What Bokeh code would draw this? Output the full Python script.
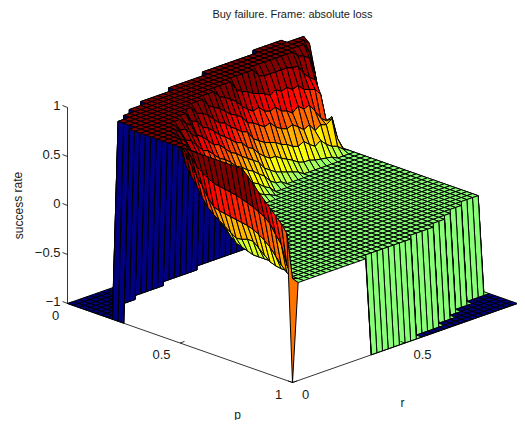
from bokeh.plotting import figure
from bokeh.models import Range1d
from bokeh.core.properties import value
from bokeh.embed import file_html
from bokeh.resources import INLINE

TITLE = "Buy failure. Frame: absolute loss"
Z_TICKS = [-1, -0.5, 0, 0.5, 1]
Z_TICK_LABELS = ["\u22121", "\u22120.5", "0", "0.5", "1"]
P_TICKS = [0, 0.5, 1]
R_TICKS = [0, 0.5]
N = 40  # grid cells per axis

# Success rate, one entry per r grid line (r = j/40).
floor_last = [10, 7, 7, 6, 6, 5, 5, 5, 4, 4, 4, 4, 4, 4, 3, 3, 3, 3, 3, 3, 3,
              2, 2, 2, 2, 2, 2, 2, 2, 2, 2, 1, 1, 1, 1, 1, 1, 2, 2, 2]
plateau_last = [31, 20, 18, 16, 15, 14, 13, 13, 12, 12, 11, 11, 10, 10, 10, 9, 9, 9, 8, 8, 8,
                8, 7, 7, 7, 7, 7, 6, 6, 6, 6, 6, 6, 6, 6, 5, 5, 5, 4, 3]
right_last = [39] + [40] * 13 + [39] * 9 + [38] * 5 + [37] * 3 + [36] * 2 + [35] * 3 + [34] * 4
falling = [
    [.95, .88, .82, .76, .7, .64, .58, .5],
    [.9, .82, .78, .74, .71, .7, .69, .68, .67, .65, .63, .61, .58, .55, .5, .41, .33, .14, .02],
    [.88, .78, .68, .6, .5, .43, .41, .4, .39, .38, .37, .36, .34, .31, .27, .22, .15, .08, .02],
    [.88, .72, .62, .54, .44, .36, .31, .27, .23, .19, .15, .16, .18, .18, .13, .08, .03, .01],
    [.93, .8, .68, .56, .42, .36, .28, .22, .18, .11, .06, .04, .02],
    [.95, .87, .77, .65, .52, .41, .3, .2, .13, .09, .06, .03, .01],
    [.93, .85, .76, .66, .56, .46, .37, .29, .22, .15, .09, .04],
    [.92, .82, .72, .62, .52, .42, .33, .25, .18, .12, .06, .02],
    [.94, .85, .75, .65, .56, .47, .38, .3, .23, .16, .1, .05, .01],
    [.9, .8, .69, .58, .48, .38, .29, .21, .14, .08, .03],
    [.9, .78, .64, .52, .42, .33, .25, .17, .1, .04],
    [.88, .74, .62, .5, .4, .31, .22, .14, .07, .02],
    [.92, .8, .68, .56, .45, .35, .26, .18, .1, .04],
    [.9, .77, .62, .5, .38, .28, .2, .12, .05],
    [.86, .72, .6, .47, .35, .26, .17, .09, .03],
    [.92, .8, .66, .54, .42, .3, .2, .12, .05],
    [.88, .74, .62, .48, .36, .25, .15, .07],
    [.85, .72, .57, .45, .33, .23, .13, .05],
    [.93, .8, .66, .52, .4, .28, .17, .08],
    [.9, .75, .62, .5, .36, .25, .14, .05],
    [.86, .72, .57, .43, .32, .2, .09, .03],
    [.82, .68, .55, .4, .28, .16, .06],
    [.9, .75, .6, .46, .33, .2, .09],
    [.86, .7, .58, .42, .28, .16, .05],
    [.84, .66, .54, .38, .24, .12, .04],
    [.8, .68, .5, .36, .24, .1],
    [.78, .62, .52, .34, .2, .08],
    [.92, .76, .6, .46, .3, .17, .06],
    [.9, .72, .62, .42, .28, .14, .04],
    [.9, .76, .56, .4, .24, .1],
    [.9, .72, .54, .42, .22, .08],
    [.9, .74, .5, .38, .25, .08],
    [.9, .7, .55, .33, .2, .06],
    [.88, .72, .5, .36, .16, .05],
    [.88, .66, .52, .28, .2, .04],
    [.94, .78, .64, .44, .32, .14, .03],
    [.92, .72, .62, .35, .3, .1],
    [.88, .68, .55, .3, .34, .08],
    [.9, .7, .45, .25, .32, .12, .03],
    [.95, .67, .35, .18, .15, .05],
]

Z = []
for j in range(N):
    f, e, g = floor_last[j], plateau_last[j], right_last[j]
    col = [-1.0] * (f + 1) + [1.0] * (e - f) + list(falling[j])
    col += [0.0] * (g + 1 - len(col))
    col += [-1.0] * (N + 1 - len(col))
    Z.append(col)
Z.append([-1.0] * (N + 1))


# View transform of the 3-D axes box onto the plot plane.
def sx(p, r):
    return 67 + 225 * (p + r)


def sy(p, r, z):
    return 303 + 79 * (p - r) - 98 * (z + 1)


def jet(z):
    t = (z + 1) / 2
    t = min(int(t * 64), 63) / 63
    def ramp(c):
        return max(0.0, min(1.0, 1.5 - abs(4 * t - c)))
    return "#%02x%02x%02x" % tuple(int(round(255 * ramp(c))) for c in (3, 2, 1))


xs, ys, colors = [], [], []
for j in range(N - 1, -1, -1):
    for i in range(N):
        corners = [(i, j), (i + 1, j), (i + 1, j + 1), (i, j + 1)]
        xs.append([sx(a / N, b / N) for a, b in corners])
        ys.append([sy(a / N, b / N, Z[b][a]) for a, b in corners])
        colors.append(jet(Z[j][i]))

fig = figure(width=517, height=420, output_backend="svg", toolbar_location=None,
             x_range=Range1d(0, 517), y_range=Range1d(420, 0),
             min_border=0, outline_line_color=None, background_fill_color="white")
fig.axis.visible = False
fig.grid.visible = False

fig.patches(xs, ys, fill_color=colors, line_color="black", line_width=1.0)

# axis lines
fig.line([sx(0, 0), sx(1, 0)], [sy(0, 0, -1), sy(1, 0, -1)], line_color="black", line_width=0.8)
fig.line([sx(1, 0), sx(1, 1)], [sy(1, 0, -1), sy(1, 1, -1)], line_color="black", line_width=0.8)
fig.line([sx(0, 0), sx(0, 0)], [sy(0, 0, -1), sy(0, 0, 1)], line_color="black", line_width=0.8)

# ticks
for z in Z_TICKS:
    fig.line([sx(0, 0) - 5, sx(0, 0)], [sy(0, 0, z) - 2, sy(0, 0, z)], line_color="black", line_width=0.8)
for t in P_TICKS:
    fig.line([sx(t, 0), sx(t, 0.02)], [sy(t, 0, -1), sy(t, 0.02, -1)], line_color="black", line_width=0.8)
for t in R_TICKS:
    fig.line([sx(1, t), sx(0.98, t)], [sy(1, t, -1), sy(0.98, t, -1)], line_color="black", line_width=0.8)

FONT = value("Liberation Sans")


def label(x, y, s, size="12px", align="center", angle=0.0):
    fig.text([x], [y], text=[s], text_font=FONT, text_font_size=size, text_align=align,
             text_baseline="middle", text_color="#1a1a1a", angle=angle)


label(292, 13, TITLE, "11px")
for z, s in zip(Z_TICKS, Z_TICK_LABELS):
    label(60, sy(0, 0, z) - 2, s, "13px", "right")
label(55, 315, "0", "13px")
label(161, 354, "0.5", "13px")
label(278, 394, "1", "13px")
label(305, 394, "0", "13px")
label(422, 354, "0.5", "13px")
label(18, 205, "success rate", "12px", angle=1.5708)
label(237, 414, "p", "12px")
label(402, 402, "r", "12px")

open("out.html", "w").write(file_html(fig, INLINE))
